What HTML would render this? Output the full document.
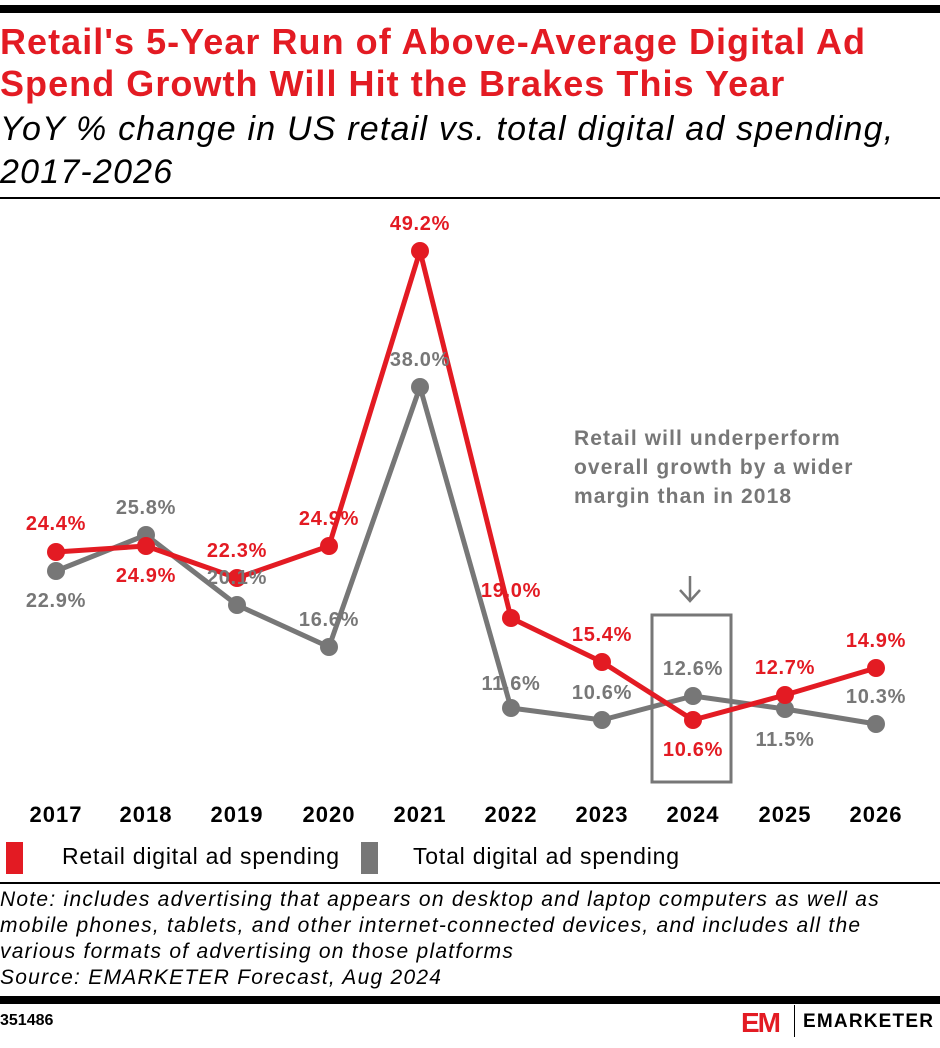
<!DOCTYPE html>
<html><head><meta charset="utf-8"><style>
body{margin:0;width:940px;height:1048px;background:#fff;overflow:hidden;font-family:"Liberation Sans",sans-serif;position:relative}
.a{position:absolute;white-space:nowrap}
</style></head><body>
<div class="a" style="left:0;top:5px;width:940px;height:8px;background:#000"></div>
<div class="a" style="left:0;top:21px;font-weight:bold;font-size:36px;color:#e31b23;line-height:42px;letter-spacing:1.05px">Retail's 5-Year Run of Above-Average Digital Ad<br>Spend Growth Will Hit the Brakes This Year</div>
<div class="a" style="left:0;top:108px;font-style:italic;font-size:34px;color:#000;line-height:43px;letter-spacing:1.2px">YoY % change in US retail vs. total digital ad spending,<br>2017-2026</div>
<div class="a" style="left:0;top:197px;width:940px;height:2px;background:#000"></div>
<svg class="a" style="left:0;top:0" width="940" height="840" font-family="Liberation Sans, sans-serif" font-weight="bold" font-size="20" letter-spacing="0.7">
<rect x="652" y="615" width="79" height="167" fill="none" stroke="#777" stroke-width="3"/>
<line x1="690" y1="576" x2="690" y2="600" stroke="#777" stroke-width="2.5"/>
<polyline points="680,590 690,601 700,590" fill="none" stroke="#777" stroke-width="2.5"/>
<g fill="#777" font-size="21" letter-spacing="1.1"><text x="574" y="445">Retail will underperform</text><text x="574" y="474">overall growth by a wider</text><text x="574" y="503">margin than in 2018</text></g>
<polyline points="56,571 146,535 237,605 329,647 420,387 511,708 602,720 693,696 785,709 876,724" fill="none" stroke="#777" stroke-width="5" stroke-linejoin="round"/>
<g fill="#777"><circle cx="56" cy="571" r="9"/><circle cx="146" cy="535" r="9"/><circle cx="237" cy="605" r="9"/><circle cx="329" cy="647" r="9"/><circle cx="420" cy="387" r="9"/><circle cx="511" cy="708" r="9"/><circle cx="602" cy="720" r="9"/><circle cx="693" cy="696" r="9"/><circle cx="785" cy="709" r="9"/><circle cx="876" cy="724" r="9"/></g>
<polyline points="56,552 146,546 237,578 329,546 420,251 511,618 602,662 693,720 785,695 876,668" fill="none" stroke="#e31b23" stroke-width="5" stroke-linejoin="round"/>
<g fill="#e31b23"><circle cx="56" cy="552" r="9"/><circle cx="146" cy="546" r="9"/><circle cx="237" cy="578" r="9"/><circle cx="329" cy="546" r="9"/><circle cx="420" cy="251" r="9"/><circle cx="511" cy="618" r="9"/><circle cx="602" cy="662" r="9"/><circle cx="693" cy="720" r="9"/><circle cx="785" cy="695" r="9"/><circle cx="876" cy="668" r="9"/></g>
<g fill="#e31b23" text-anchor="middle"><text x="56" y="530">24.4%</text><text x="146" y="582">24.9%</text><text x="237" y="557">22.3%</text><text x="329" y="525">24.9%</text><text x="420" y="230">49.2%</text><text x="511" y="597">19.0%</text><text x="602" y="641">15.4%</text><text x="693" y="756">10.6%</text><text x="785" y="674">12.7%</text><text x="876" y="647">14.9%</text></g>
<g fill="#777" text-anchor="middle"><text x="56" y="607">22.9%</text><text x="146" y="514">25.8%</text><text x="237" y="584">20.1%</text><text x="329" y="626">16.6%</text><text x="420" y="366">38.0%</text><text x="511" y="690">11.6%</text><text x="602" y="699">10.6%</text><text x="693" y="675">12.6%</text><text x="785" y="746">11.5%</text><text x="876" y="703">10.3%</text></g>
<g fill="#000" text-anchor="middle" font-size="22" letter-spacing="1"><text x="56" y="822">2017</text><text x="146" y="822">2018</text><text x="237" y="822">2019</text><text x="329" y="822">2020</text><text x="420" y="822">2021</text><text x="511" y="822">2022</text><text x="602" y="822">2023</text><text x="693" y="822">2024</text><text x="785" y="822">2025</text><text x="876" y="822">2026</text></g>
</svg>
<div class="a" style="left:6px;top:842px;width:17px;height:32px;background:#e31b23"></div>
<div class="a" style="left:62px;top:843px;font-size:23px;color:#000;letter-spacing:0.8px">Retail digital ad spending</div>
<div class="a" style="left:361px;top:842px;width:17px;height:32px;background:#777"></div>
<div class="a" style="left:413px;top:843px;font-size:23px;color:#000;letter-spacing:0.8px">Total digital ad spending</div>
<div class="a" style="left:0;top:882px;width:940px;height:2px;background:#000"></div>
<div class="a" style="left:0;top:887px;font-style:italic;font-size:21px;line-height:26px;color:#000;letter-spacing:1.25px">Note: includes advertising that appears on desktop and laptop computers as well as<br>mobile phones, tablets, and other internet-connected devices, and includes all the<br>various formats of advertising on those platforms<br>Source: EMARKETER Forecast, Aug 2024</div>
<div class="a" style="left:0;top:996px;width:940px;height:8px;background:#000"></div>
<div class="a" style="left:0;top:1012px;font-weight:bold;font-size:16px;color:#000">351486</div>
<div class="a" style="left:741px;top:1007px;font-weight:bold;font-size:28px;color:#e31b23;letter-spacing:-2px">EM</div>
<div class="a" style="left:794px;top:1005px;width:1px;height:32px;background:#000"></div>
<div class="a" style="left:803px;top:1011px;font-weight:bold;font-size:19px;color:#000;letter-spacing:1.2px">EMARKETER</div>
</body></html>
